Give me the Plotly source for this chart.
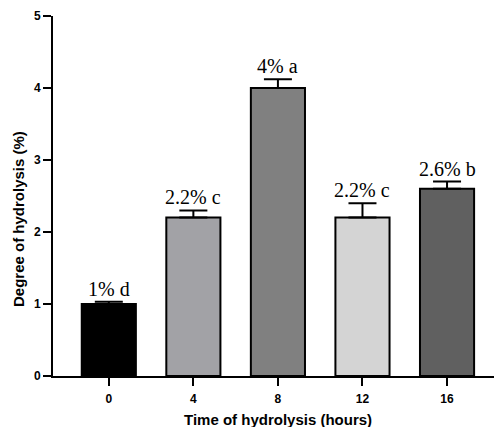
import plotly.graph_objects as go

categories = ["0", "4", "8", "12", "16"]
values = [1.0, 2.2, 4.0, 2.2, 2.6]
errors = [0.03, 0.1, 0.12, 0.2, 0.1]
labels = ["1% d", "2.2% c", "4% a", "2.2% c", "2.6% b"]
colors = ["#000000", "#a2a2a6", "#808080", "#d4d4d4", "#606060"]
x_title = "Time of hydrolysis (hours)"
y_title = "Degree of hydrolysis (%)"

fig = go.Figure()
fig.add_trace(go.Bar(
    x=list(range(len(categories))), y=values,
    width=0.64,
    marker=dict(color=colors, line=dict(color="black", width=2)),
    error_y=dict(type="data", array=errors, arrayminus=[0]*len(errors),
                 symmetric=False, color="black", thickness=2, width=14),
    showlegend=False,
))

for i, (v, e, t) in enumerate(zip(values, errors, labels)):
    fig.add_annotation(x=i, y=v + e, text=t, showarrow=False,
                       yanchor="bottom", yshift=0,
                       font=dict(family="Liberation Serif, DejaVu Serif, serif", size=20, color="black"))

title_font = dict(family="Liberation Sans, Arial, sans-serif", size=15, color="black")
fig.add_annotation(xref="paper", yref="paper", x=0.5, y=-0.122, yanchor="middle",
                   text=f"<b>{x_title}</b>", showarrow=False, font=title_font)
fig.add_annotation(xref="paper", yref="paper", x=-0.078, y=0.436, xanchor="center", yanchor="middle",
                   text=f"<b>{y_title}</b>", textangle=-90, showarrow=False, font=title_font)

axis_font = dict(family="Liberation Sans, Arial, sans-serif", size=12, color="black")
fig.update_layout(
    width=494, height=419,
    margin=dict(l=45, r=0, t=8, b=51),
    plot_bgcolor="white", paper_bgcolor="white",
    xaxis=dict(
        range=[-0.66, 4.65], automargin=False,
        tickmode="array", tickvals=list(range(len(categories))), ticktext=[f"<b>{c}</b>" for c in categories],
        showline=True, linecolor="black", linewidth=2,
        ticks="outside", ticklen=8, tickwidth=2, tickcolor="black",
        ticklabelstandoff=3,
        showgrid=False, zeroline=False,
        tickfont=axis_font,
    ),
    yaxis=dict(
        range=[0, 5], automargin=False,
        tickvals=[0, 1, 2, 3, 4, 5], ticktext=[f"<b>{v}</b>" for v in range(6)],
        showline=True, linecolor="black", linewidth=2,
        ticks="outside", ticklen=8, tickwidth=2, tickcolor="black",
        showgrid=False, zeroline=False,
        tickfont=axis_font,
    ),
)

fig.write_html("out.html")
